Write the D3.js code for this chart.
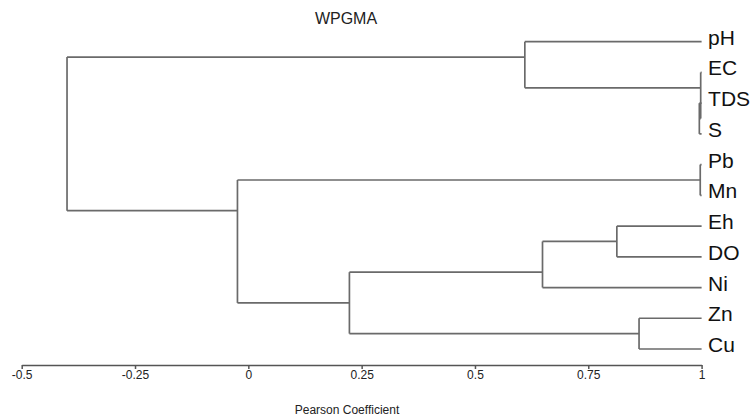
<!DOCTYPE html>
<html>
<head>
<meta charset="utf-8">
<script src="https://cdn.jsdelivr.net/npm/d3@7"></script>
<style>
html,body{margin:0;padding:0;background:#fff;}
svg{display:block;font-family:"Liberation Sans",Arial,sans-serif;}
</style>
</head>
<body>
<svg id="chart" width="756" height="419"></svg>
<script>
// ---- data ----
const title = "WPGMA";
const axisTitle = "Pearson Coefficient";
const leaves = ["pH","EC","TDS","S","Pb","Mn","Eh","DO","Ni","Zn","Cu"];
const leafLevel = 1;
// merges: [child A, child B, coefficient]; children are leaf names or merge indices
const merges = [
  ["TDS","S",0.995],   // 0
  ["EC",0,0.998],      // 1
  ["pH",1,0.61],       // 2
  ["Pb","Mn",0.997],   // 3
  ["Eh","DO",0.813],   // 4
  [4,"Ni",0.649],      // 5
  ["Zn","Cu",0.862],   // 6
  [5,6,0.223],         // 7
  [3,7,-0.024],        // 8
  [2,8,-0.40]          // 9
];
const tickValues = [-0.5,-0.25,0,0.25,0.5,0.75,1];
const tickLabels = ["-0.5","-0.25","0","0.25","0.5","0.75","1"];

// ---- scales ----
const svg = d3.select("#chart");
const x = d3.scaleLinear().domain([-0.5,1]).range([21.7,701.6]);
const y = d3.scalePoint().domain(leaves).range([41.7,349]);

// helpers
function leafList(c){
  if (typeof c === "string") return [c];
  const m = merges[c];
  return leafList(m[0]).concat(leafList(m[1]));
}
function nodeY(c){
  if (typeof c === "string") return y(c);
  const m = merges[c];
  const a = leafList(m[0]), b = leafList(m[1]);
  return (y(a[a.length-1]) + y(b[0]))/2;
}
function nodeX(c){
  if (typeof c === "string") return x(leafLevel);
  return x(merges[c][2]);
}

const lineColor = "#6a6a6a";
const g = svg.append("g").attr("fill","none").attr("stroke",lineColor).attr("stroke-width",1.7);

merges.forEach((m,i)=>{
  const xm = x(m[2]);
  const ya = nodeY(m[0]), yb = nodeY(m[1]);
  g.append("line").attr("x1",xm).attr("x2",xm).attr("y1",ya).attr("y2",yb);
  [m[0],m[1]].forEach(c=>{
    g.append("line").attr("x1",xm).attr("x2",nodeX(c)).attr("y1",nodeY(c)).attr("y2",nodeY(c));
  });
});

// leaf labels
svg.append("g").selectAll("text").data(leaves).join("text")
  .attr("x", x(leafLevel)+6.5)
  .attr("y", d=>y(d)+3)
  .attr("font-size",21)
  .attr("fill","#111")
  .text(d=>d);

// axis
const axis = d3.axisBottom(x).tickValues(tickValues)
  .tickFormat((d,i)=>tickLabels[i]).tickSize(4).tickSizeOuter(0);
const ax = svg.append("g").attr("transform","translate(0,365)").call(axis);
ax.select(".domain").attr("stroke","#555").attr("stroke-width",1.6);
ax.selectAll(".tick line").attr("stroke","#555").attr("stroke-width",1.5);
ax.selectAll(".tick text").attr("font-size",12).attr("fill","#222")
  .attr("font-family","'Liberation Sans',Arial,sans-serif").attr("dy","0.6em").attr("y",7);

// titles
svg.append("text").attr("x",346).attr("y",24).attr("text-anchor","middle")
  .attr("font-size",16).attr("fill","#222").text(title);
svg.append("text").attr("x",347).attr("y",414).attr("text-anchor","middle")
  .attr("font-size",12).attr("fill","#222").text(axisTitle);
</script>
</body>
</html>
